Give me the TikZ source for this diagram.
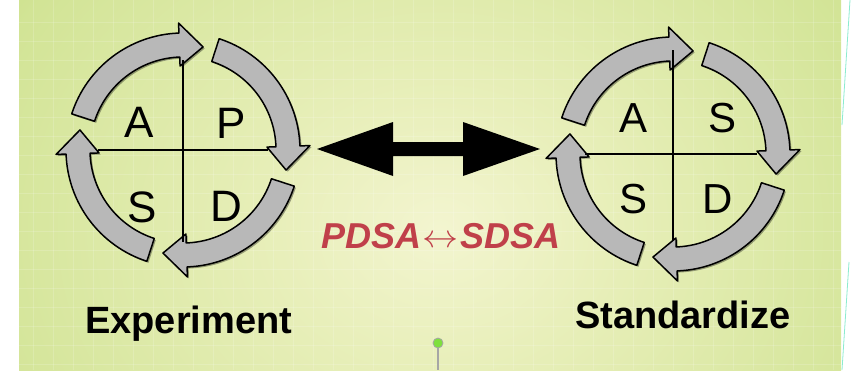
\documentclass[tikz,border=0pt]{standalone}
\usepackage{fontspec}
\setmainfont{Liberation Sans}
\usetikzlibrary{calc}

% slide background colours
\definecolor{bgcore}{HTML}{F3F5D0}
\definecolor{bgsoft}{HTML}{E8EFBA}
\definecolor{bgmid}{HTML}{D2E496}
\definecolor{bgedge}{HTML}{B6D45A}
\definecolor{bgdark}{HTML}{A0BF4C}
\definecolor{arrowgray}{HTML}{B8B8B8}
\definecolor{cyclered}{RGB}{192,64,74}
\definecolor{pingreen}{HTML}{7EE03C}
\definecolor{edgecyan}{HTML}{8CEBCF}

\pgfdeclareradialshading{slideglow}{\pgfpoint{0bp}{0bp}}{%
  color(0bp)=(bgcore); color(9bp)=(bgsoft); color(27bp)=(bgmid);
  color(41bp)=(bgedge); color(56bp)=(bgdark); color(72bp)=(bgdark)}

\tikzset{
  arrowbody/.style={fill=arrowgray, draw=black, line width=1.5pt, line join=round},
  arrowshadow/.style={fill=black, opacity=0.35},
  crossline/.style={draw=black, line width=1.6pt},
  cycleletter/.style={anchor=base, inner sep=0pt, text=black},
  caption/.style={anchor=base west, inner sep=0pt, font=\fontsize{38}{38}\selectfont\bfseries},
  gridline/.style={draw=white, opacity=0.16, line width=0.9pt},
}

% one curved arrow of a cycle: style, origin, tail angle (degrees, clockwise travel)
\newcommand{\arcarrowpath}[3]{%
  \pgfmathsetmacro\angA{-(#3)}%
  \pgfmathsetmacro\angB{-(#3)+70}%
  \pgfmathsetmacro\angC{-(#3)+83}%
  \path[#1, shift={#2}] (\angA:117) arc[start angle=\angA, end angle=\angB, radius=117]
    -- (\angB:127) -- (\angC:105) -- (\angB:84) -- (\angB:93)
    arc[start angle=\angB, end angle=\angA, radius=93] -- cycle;}
\newcommand{\cyclearrow}[2]{%
  \arcarrowpath{arrowshadow}{($(#1)+(1.6,1.6)$)}{#2}%
  \arcarrowpath{arrowbody}{(#1)}{#2}}

\begin{document}
\begin{tikzpicture}[x=1pt, y=-1pt]
  \useasboundingbox (0,0) rectangle (851,370);

  % background panel with glow and faint grid
  \begin{scope}
    \clip (19,0) rectangle (841,370);
    \shade[shading=slideglow] (-10,-140) rectangle (890,600);
    \foreach \gx in {33,53,...,833} \draw[gridline] (\gx,0) -- (\gx,370);
    \foreach \gy in {22,41,...,370} \draw[gridline] (19,\gy) -- (841,\gy);
  \end{scope}
  \draw[edgecyan, line width=0.8pt] (850,0) -- (842,125);
  \draw[edgecyan, line width=0.8pt] (849,262) -- (842,370);

  % cycle centres
  \coordinate (L) at (183,150);
  \coordinate (R) at (673,154);

  % left cycle: A P / S D
  \foreach \t in {162,72,-18,-108} { \cyclearrow{L}{\t} }
  \coordinate (Lt) at (183,60);  \coordinate (Lb) at (183,242);
  \coordinate (Ll) at (98,150);  \coordinate (Lr) at (268,150);
  \draw[crossline] (Lt) -- (Lb);
  \draw[crossline] (Ll) -- (Lr);
  \begin{scope}[every node/.style={cycleletter, font=\fontsize{44}{44}\selectfont}]
    \node (lA) at (139,137) {A};
    \node (lP) at (231,138) {P};
    \node (lS) at (142,222) {S};
    \node (lD) at (226,221) {D};
  \end{scope}

  % right cycle: A S / S D
  \foreach \t in {162,72,-18,-108} { \cyclearrow{R}{\t} }
  \coordinate (Rt) at (673,50);  \coordinate (Rb) at (673,240);
  \coordinate (Rl) at (585,154); \coordinate (Rr) at (757,154);
  \draw[crossline] (Rt) -- (Rb);
  \draw[crossline] (Rl) -- (Rr);
  \begin{scope}[every node/.style={cycleletter, font=\fontsize{42}{42}\selectfont}]
    \node (rA) at (633,132) {A};
    \node (rS) at (722,132) {S};
    \node (rSb) at (633,213) {S};
    \node (rD) at (718,213) {D};
  \end{scope}

  % double-headed arrow between the cycles
  \fill[black] (317,149) -- (393,122) -- (393,142) -- (463,142) -- (463,122)
    -- (540,149) -- (463,176) -- (463,156) -- (393,156) -- (393,176) -- cycle;

  % label under the arrow
  \node (pdsa) [anchor=base, inner sep=0pt, text=cyclered,
        font=\fontsize{36}{36}\selectfont\bfseries\itshape] at (441,248)
        {PDSA\kern1pt\raisebox{1pt}{\scalebox{1.45}[1.3]{$\leftrightarrow$}}\kern1ptSDSA};

  % captions
  \node (exp) [caption] at (85,333) {Experiment};
  \node (std) [caption] at (575,328) {Standardize};

  % slide pin
  \node (pin) [circle, draw=gray!70, line width=0.8pt, fill=pingreen,
               inner sep=0pt, minimum size=10pt] at (438,343) {};
  \coordinate (pinfoot) at (438,370);
  \draw[gray!70, line width=1.4pt] (pin.south) -- (pinfoot);
\end{tikzpicture}
\end{document}
